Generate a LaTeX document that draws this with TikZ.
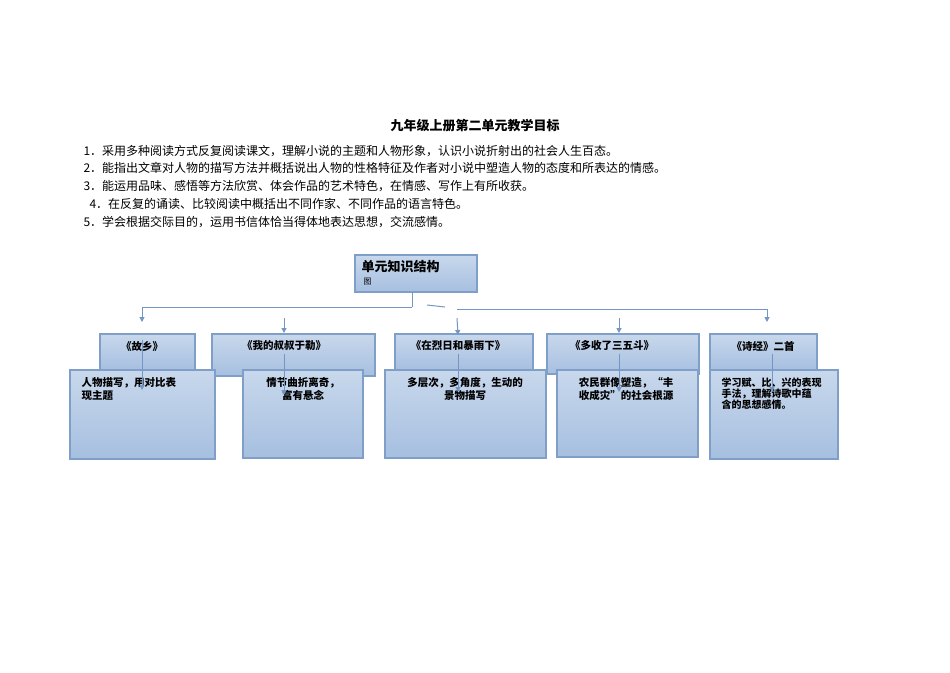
\documentclass[tikz,border=0pt]{standalone}
\usepackage{fontspec}
\newfontfamily\cjk{Noto Sans CJK SC}
\usetikzlibrary{arrows.meta}
\definecolor{bord}{HTML}{7F9FC8}
\definecolor{ftop}{HTML}{C8D8EC}
\definecolor{fbot}{HTML}{A6BFE0}
\definecolor{arr}{HTML}{7396C4}
\tikzset{
 bx/.style={draw=bord,line width=1.2pt,top color=ftop,bottom color=fbot,inner sep=0pt},
 ar/.style={draw=arr,line width=1pt,-{Triangle[width=5pt,length=5pt]}},
 ln/.style={draw=arr,line width=1pt},
 line/.style={anchor=west,font=\cjk\fontsize{12}{14}\selectfont},
 bt/.style={font=\cjk\bfseries\fontsize{10.5}{12.5}\selectfont,align=center}
}
\begin{document}
\begin{tikzpicture}[x=1pt,y=-1pt]
\useasboundingbox[fill=white] (0,0) rectangle (950,672);
\node[font=\cjk\bfseries\fontsize{13}{15}\selectfont] (t) at (475,126) {九年级上册第二单元教学目标};
\node[line] (l1) at (80,151) {1．采用多种阅读方式反复阅读课文，理解小说的主题和人物形象，认识小说折射出的社会人生百态。};
\node[line] (l2) at (80,168) {2．能指出文章对人物的描写方法并概括说出人物的性格特征及作者对小说中塑造人物的态度和所表达的情感。};
\node[line] (l3) at (80,186) {3．能运用品味、感悟等方法欣赏、体会作品的艺术特色，在情感、写作上有所收获。};
\node[line] (l4) at (86,204) {4．在反复的诵读、比较阅读中概括出不同作家、不同作品的语言特色。};
\node[line] (l5) at (80,222) {5．学会根据交际目的，运用书信体恰当得体地表达思想，交流感情。};
% root
\path[bx] (355,255) rectangle (477,292);
\node[anchor=north west,font=\cjk\bfseries\fontsize{13}{15}\selectfont] (root) at (358,257) {单元知识结构};
\node[anchor=north west,font=\cjk\fontsize{8}{9}\selectfont] (rootb) at (360,275) {图};
\coordinate (rb) at (412,292);
% title boxes
\path[bx] (100,334) rectangle (195,370);
\path[bx] (212,334) rectangle (375,376);
\path[bx] (395,334) rectangle (533,370);
\path[bx] (547,334) rectangle (699,374);
\path[bx] (710,334) rectangle (817,370);
\node[bt] (h1) at (142,346) {《故乡》};
\node[bt] (h2) at (284,346) {《我的叔叔于勒》};
\node[bt] (h3) at (458,346) {《在烈日和暴雨下》};
\node[bt] (h4) at (612,346) {《多收了三五斗》};
\node[bt] (h5) at (763,346) {《诗经》二首};
% lower boxes
\path[bx] (70,370) rectangle (215,459);
\path[bx] (243,370) rectangle (363,458);
\path[bx] (385,370) rectangle (546,458);
\path[bx] (557,370) rectangle (698,457);
\path[bx] (710,370) rectangle (838,459);
\node[bt,align=left,anchor=north west] (b1) at (78,374) {人物描写，用对比表\\现主题};
\node[bt,anchor=north] (b2) at (303,374) {情节曲折离奇，\\富有悬念};
\node[bt,anchor=north] (b3) at (465,374) {多层次，多角度，生动的\\景物描写};
\node[bt,anchor=north] (b4) at (626,374) {农民群像塑造，“丰\\收成灾”的社会根源};
\node[font=\cjk\bfseries\fontsize{10}{11}\selectfont,align=left,anchor=north west] (b5) at (718,374) {学习赋、比、兴的表现\\手法，理解诗歌中蕴\\含的思想感情。};
% connectors
\coordinate (j1) at (412,307);
\coordinate (c1) at (142,307);
\coordinate (d1) at (142,322);
\draw[ln] (rb) -- (j1);
\draw[ar] (j1) -- (c1) -- (d1);
\coordinate (g1) at (427,305);
\coordinate (g2) at (445,307);
\draw[ln] (g1) -- (g2);
\coordinate (s5) at (457,309);
\coordinate (m5) at (767,309);
\coordinate (e5) at (767,322);
\draw[ar] (s5) -- (m5) -- (e5);
\coordinate (a2) at (284,318);\coordinate (a2e) at (284,333);
\coordinate (a3) at (457,318);\coordinate (a3e) at (458,335);
\coordinate (a4) at (619,318);\coordinate (a4e) at (619,333);
\draw[ar] (a2) -- (a2e);
\draw[ar] (a3) -- (a3e);
\draw[ar] (a4) -- (a4e);
\draw[ar] (142,340) -- (142,390);
\draw[ar] (284,354) -- (284,395);
\draw[ar] (458,354) -- (458,392);
\draw[ar] (619,354) -- (619,392);
\draw[ar] (772,354) -- (772,392);
\end{tikzpicture}
\end{document}
